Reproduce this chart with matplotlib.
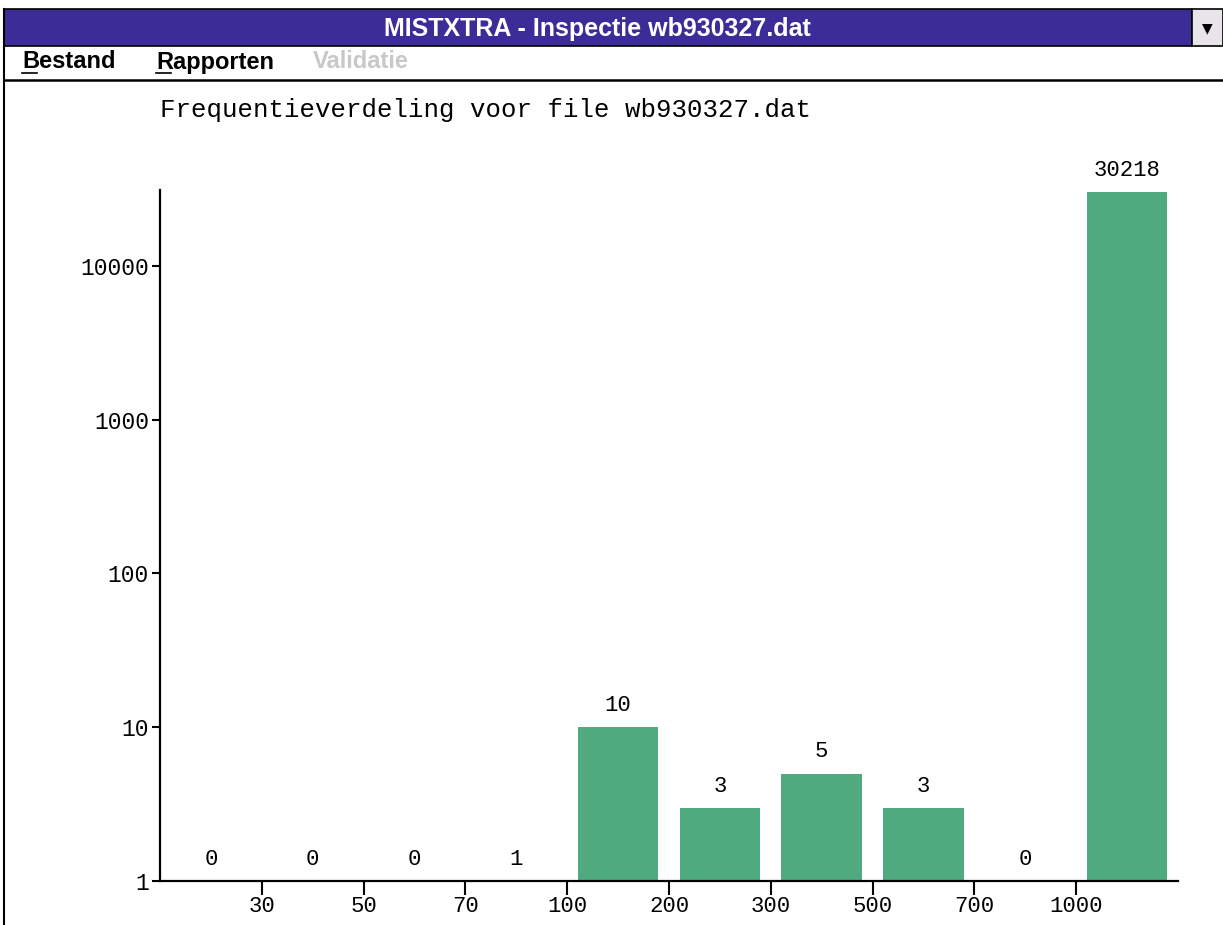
import matplotlib
matplotlib.use("Agg")
import matplotlib.pyplot as plt
from matplotlib.patches import Rectangle
from matplotlib.lines import Line2D
import numpy as np

# ---- data ----
bin_labels = ["30", "50", "70", "100", "200", "300", "500", "700", "1000"]
counts = [0, 0, 0, 1, 10, 3, 5, 3, 0, 30218]
ytick_values = [1, 10, 100, 1000, 10000]
ytick_labels = ["1", "10", "100", "1000", "10000"]
window_title = "MISTXTRA - Inspectie wb930327.dat"
chart_title = "Frequentieverdeling voor file wb930327.dat"
menu_items = ["Bestand", "Rapporten", "Validatie"]

W, H = 1223, 925
fig = plt.figure(figsize=(W / 100, H / 100), dpi=100)
fig.patch.set_facecolor("white")

def fx(x):
    return x / W

def fy(y):
    return 1 - y / H

mono = ["Liberation Mono", "DejaVu Sans Mono"]
sans = ["Liberation Sans", "DejaVu Sans"]
bar_color = "#4FAA80"

# ---- window chrome ----
fig.add_artist(Rectangle((fx(4), fy(46)), fx(1192) - fx(4), fy(9) - fy(46),
                         transform=fig.transFigure, facecolor="#3B2C98",
                         edgecolor="black", linewidth=1.2))
fig.text(fx(597), fy(29), window_title, color="white", ha="center", va="center",
         fontsize=18, fontweight="bold", family=sans)
fig.add_artist(Rectangle((fx(1192), fy(46)), fx(1223) - fx(1192), fy(9) - fy(46),
                         transform=fig.transFigure, facecolor="#E8E4EA",
                         edgecolor="black", linewidth=1.2))
fig.text(fx(1207), fy(28), "▼", color="black", ha="center", va="center",
         fontsize=10, family=["DejaVu Sans"])
fig.add_artist(Line2D([fx(4), fx(4)], [fy(9), fy(925)], transform=fig.transFigure,
                      color="black", linewidth=1.5))
fig.add_artist(Line2D([fx(4), fx(1223)], [fy(80), fy(80)], transform=fig.transFigure,
                      color="black", linewidth=1.8))

# menu
menu_x = [22, 156, 313]
menu_colors = ["black", "black", "#C8C8C8"]
for mx, name, mc in zip(menu_x, menu_items, menu_colors):
    fig.text(fx(mx), fy(62), name, color=mc, ha="left", va="center",
             fontsize=17, fontweight="bold", family=sans)
for ux in menu_x[:2]:
    fig.add_artist(Line2D([fx(ux), fx(ux + 15)], [fy(73), fy(73)],
                          transform=fig.transFigure, color="black", linewidth=1.2))

# chart title
fig.text(fx(160), fy(110), chart_title, ha="left", va="center",
         fontsize=18.5, family=mono, color="black")

# ---- chart ----
ax = fig.add_axes([fx(160), fy(881), fx(1178) - fx(160), fy(190) - fy(881)])
n = len(counts)
xpos = np.arange(n) + 0.5
heights = [max(c, 1) for c in counts]
ax.bar(xpos, heights, width=0.79, bottom=0, color=bar_color, edgecolor="none", zorder=2)
ax.set_yscale("log")
ax.set_ylim(1, 10 ** 4.494)
ax.set_xlim(0, n)

for x, c, h in zip(xpos, counts, heights):
    ax.annotate(str(c), xy=(x, h), xytext=(0, 8), textcoords="offset points",
                ha="center", va="bottom", fontsize=16, family=mono, color="black")

ax.set_yticks(ytick_values)
ax.set_yticklabels(ytick_labels)
ax.yaxis.set_minor_locator(matplotlib.ticker.NullLocator())
ax.set_xticks(np.arange(1, n))
ax.set_xticklabels(bin_labels)

ax.tick_params(axis="y", direction="out", length=6, width=1.5, pad=2,
               labelsize=16.5, colors="black")
ax.tick_params(axis="x", direction="out", length=10, width=1.5, pad=1,
               labelsize=16, colors="black")
for lab in ax.get_xticklabels() + ax.get_yticklabels():
    lab.set_family(mono)

for s in ["top", "right"]:
    ax.spines[s].set_visible(False)
for s in ["left", "bottom"]:
    ax.spines[s].set_linewidth(1.6)
    ax.spines[s].set_color("black")
ax.set_facecolor("white")

fig.savefig("out.png", dpi=100, facecolor="white")
